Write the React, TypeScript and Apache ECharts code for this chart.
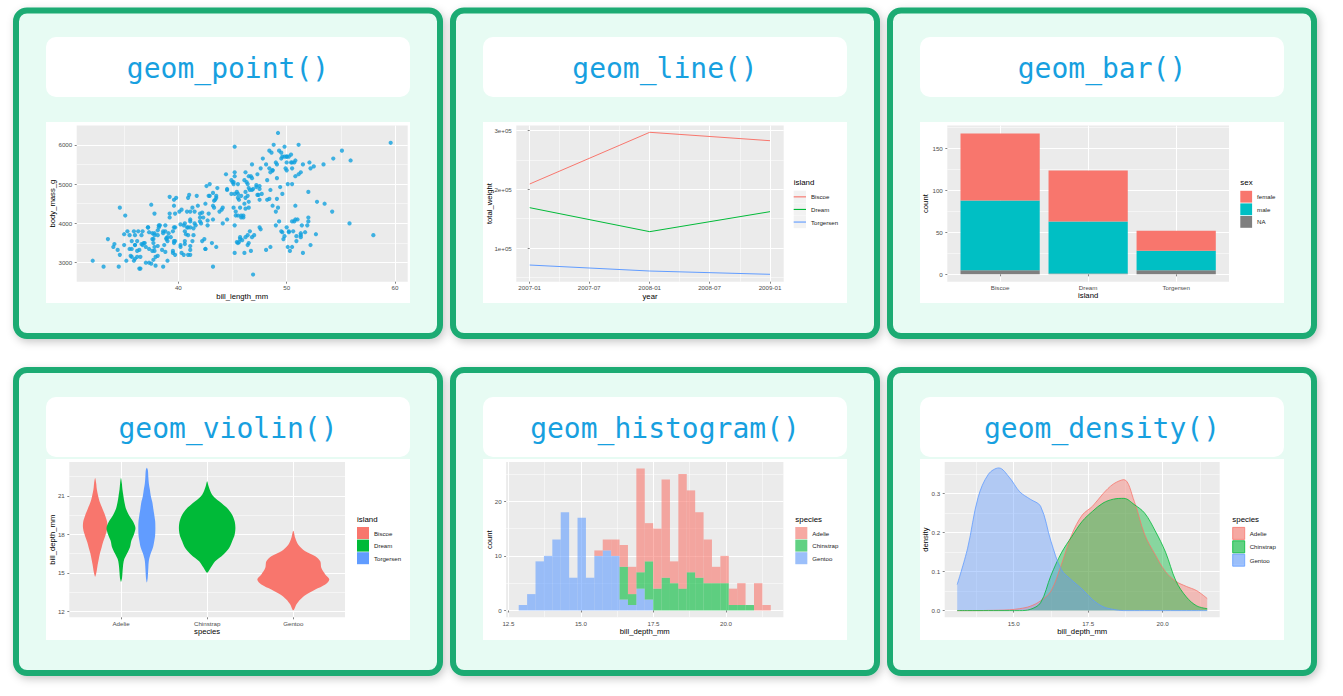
import React, { useEffect, useRef } from "react";
import * as echarts from "echarts";

// ---------------- texts ----------------
const panelTitles = ["geom_point()", "geom_line()", "geom_bar()", "geom_violin()", "geom_histogram()", "geom_density()"];
const xAxisTitles = ["bill_length_mm", "year", "island", "species", "bill_depth_mm", "bill_depth_mm"];
const yAxisTitles = ["body_mass_g", "total_weight", "count", "bill_depth_mm", "count", "density"];
const legendTitleTexts = ["island", "sex", "island", "species", "species"];

// ---------------- scatter: bill_length_mm vs body_mass_g ----------------
const adeliePoints = [
  [39.1,3750],[39.5,3800],[40.3,3250],[36.7,3450],[39.3,3650],[38.9,3625],[39.2,4675],[34.1,3475],[42.0,4250],[37.8,3300],
  [37.8,3700],[41.1,3200],[38.6,3800],[34.6,4400],[36.6,3700],[38.7,3450],[42.5,4500],[34.4,3325],[46.0,4200],
  [37.8,3400],[37.7,3600],[35.9,3800],[38.2,3950],[38.8,3800],[35.3,3800],[40.6,3550],[40.5,3200],[37.9,3150],[40.5,3950],
  [39.5,3250],[37.2,3900],[39.5,3300],[40.9,3900],[36.4,3325],[39.2,4150],[38.8,3950],[42.2,3550],[37.6,3300],[39.8,4650],
  [36.5,3150],[40.8,3900],[36.0,3100],[44.1,4400],[37.0,3000],[39.6,4600],[41.1,3425],[37.5,2975],[36.0,3450],[42.3,4150],
  [39.6,3500],[40.1,4300],[35.0,3450],[42.0,4050],[34.5,2900],[41.4,3700],[39.0,3550],[40.6,3800],[36.5,2850],[37.6,3750],
  [35.7,3150],[41.3,4400],[37.6,3600],[41.1,4050],[36.4,2850],[41.6,3950],[35.5,3350],[41.1,4100],
  [35.9,3050],[41.8,4450],[33.5,3600],[39.7,3900],[39.6,3550],[45.8,4150],[35.5,3700],[42.8,4250],[40.9,3700],[37.2,3900],
  [36.2,3550],[42.1,4000],[34.6,3200],[42.9,4700],[36.7,3800],[35.1,4200],
  [37.3,3350],[41.3,3550],[36.3,3800],[36.9,3500],[38.3,3950],[38.9,3600],[35.7,3550],[41.1,4300],[34.0,3400],[39.6,4450],
  [36.2,3300],[40.8,4300],[38.1,3700],[40.3,4350],[33.1,2900],[43.2,4100],
  [35.0,3725],[41.0,4725],[37.7,3075],[37.8,4250],[37.9,2925],[39.7,3550],[38.6,3750],[38.2,3900],[38.1,3175],[43.2,4775],
  [38.1,3825],[45.6,4600],[39.7,3200],[42.2,4275],[39.6,3900],[42.7,4075],
  [38.6,2900],[37.3,3775],[35.7,3350],[41.1,3325],[36.2,3150],[37.7,3500],[40.2,3450],[41.4,3875],[35.2,3050],[40.6,4000],
  [38.8,3275],[41.5,4300],[39.0,3050],[44.1,4000],[38.5,3325],[43.1,3500],
  [36.8,3500],[37.5,4475],[38.1,3425],[41.1,3900],[35.6,3175],[40.2,3975],[37.0,3400],[39.7,4250],[40.2,3400],[40.6,3475],
  [32.1,3050],[40.7,3725],[37.3,3000],[39.0,3650],[39.2,4250],[36.6,3475],[36.0,3450],[37.8,3750],[36.0,3700],[41.5,4000]
];
const chinstrapPoints = [
  [46.5,3500],[50.0,3900],[51.3,3650],[45.4,3525],[52.7,3725],[45.2,3950],[46.1,3250],[51.3,3750],[46.0,4150],[51.3,3700],
  [46.6,3800],[51.7,3775],[47.0,3700],[52.0,4050],[45.9,3575],[50.5,4050],[50.3,3300],[58.0,3700],[46.4,3450],[49.2,4400],
  [42.4,3600],[48.5,3400],[43.2,2900],[50.6,3800],[46.7,3300],[52.0,4150],[50.5,3400],[49.5,3800],[46.4,3700],[52.8,4550],
  [40.9,3200],[54.2,4300],[42.5,3350],[51.0,4100],[49.7,3600],[47.5,3900],[47.6,3850],[52.0,4800],[46.9,2700],[53.5,4500],
  [49.0,3950],[46.2,3650],[50.9,3550],[45.5,3500],[50.9,3675],[50.8,4450],[50.1,3400],[49.0,4300],[51.5,3250],[49.8,3675],
  [48.1,3325],[51.4,3950],[45.7,3600],[50.7,4050],[42.5,3350],[52.2,3450],[45.2,3250],[49.3,4050],[50.2,3800],[45.6,3525],
  [51.9,3950],[46.8,3650],[45.7,3650],[55.8,4000],[43.5,3400],[49.6,3775],[50.8,4100],[50.2,3775]
];
const gentooPoints = [
  [46.1,4500],[50.0,5700],[48.7,4450],[50.0,5700],[47.6,5400],[46.5,4550],[45.4,4800],[46.7,5200],[43.3,4400],[46.8,5150],
  [40.9,4650],[49.0,5550],[45.5,4650],[48.4,5850],[45.8,4200],[49.3,5850],[42.0,4150],[49.2,6300],[46.2,4800],[48.7,5350],
  [50.2,5700],[45.1,5000],[46.5,4400],[46.3,5050],[42.9,5000],[46.1,5100],[44.5,4100],[47.8,5650],[48.2,4600],[50.0,5550],
  [47.3,5250],[42.8,4700],[45.1,5050],[59.6,6050],[49.1,5150],[48.4,5400],[42.6,4950],[44.4,5250],[44.0,4350],[48.7,5350],
  [42.7,3950],[49.6,5700],[45.3,4300],[49.6,4750],[50.5,5550],[43.6,4900],[45.5,4200],[50.5,5400],[44.9,5100],[45.2,5300],
  [46.6,4850],[48.5,5300],[45.1,4400],[50.1,5000],[46.5,4900],[45.0,5050],[43.8,4300],[45.5,5000],[43.2,4450],[50.4,5550],
  [45.3,4200],[46.2,5300],[45.7,4400],[54.3,5650],[45.8,4700],[49.8,5700],[46.2,4650],[49.5,5800],[43.5,4700],[50.7,5550],
  [47.7,4750],[46.4,5000],[48.2,5100],[46.5,5200],[46.4,4700],[48.6,5800],[47.5,4600],[51.1,6000],[45.2,4750],[45.2,5950],
  [49.1,4625],[52.5,5450],[47.4,4725],[50.0,5350],[44.9,4750],[50.8,5600],[43.4,4600],[51.3,5300],[47.5,4875],[52.1,5550],
  [47.5,4950],[52.2,5400],[45.5,4750],[49.5,5650],[44.5,4850],[50.8,5200],[49.4,4925],[46.9,4875],[48.4,4625],[51.1,5250],
  [48.5,4850],[55.9,5600],[47.2,4975],[49.1,5500],[47.3,4725],[46.8,5500],[41.7,4700],[53.4,5500],[43.3,4575],[48.1,5500],
  [50.5,5000],[49.8,5950],[43.5,4650],[51.5,5500],[46.2,4375],[55.1,5850],[44.5,4875],[48.8,6000],[47.2,4925],[46.8,4850],
  [50.4,5750],[45.2,5200],[49.9,5400]
];
const scatterXTicks = [40, 50, 60];
const scatterYTicks = [3000, 4000, 5000, 6000];

// ---------------- line: total weight per island per year ----------------
const islands = ["Biscoe", "Dream", "Torgersen"];
const lineYears = ["2007-01-01", "2008-01-01", "2009-01-01"];
const biscoeWeight = [209200, 297300, 283000];
const dreamWeight = [168800, 127900, 162000];
const torgersenWeight = [71000, 60800, 55200];
const lineXTickDates = ["2007-01-01", "2007-07-01", "2008-01-01", "2008-07-01", "2009-01-01"];
const lineXTickLabels = ["2007-01", "2007-07", "2008-01", "2008-07", "2009-01"];
const lineYTicks = [100000, 200000, 300000];
const lineYTickLabels = ["1e+05", "2e+05", "3e+05"];

// ---------------- bar: count per island by sex ----------------
const sexLevels = ["female", "male", "NA"];
const femaleCounts = [80, 61, 24];
const maleCounts = [83, 62, 23];
const naCounts = [5, 1, 5];
const barYTicks = [0, 50, 100, 150];

// ---------------- violin: bill_depth_mm by species / island ----------------
const speciesNames = ["Adelie", "Chinstrap", "Gentoo"];
// [bill_depth_mm, half width in x units]
const violinAdelieBiscoe = [[22.4,0],[22.0,0.012],[21.5,0.02],[21.0,0.035],[20.5,0.055],[20.0,0.085],[19.5,0.115],[19.0,0.138],[18.6,0.142],[18.2,0.132],[17.8,0.113],[17.4,0.092],[17.0,0.076],[16.5,0.055],[16.0,0.04],[15.5,0.026],[15.0,0.014],[14.7,0]];
const violinAdelieDream = [[22.4,0],[22.0,0.01],[21.5,0.017],[21.0,0.028],[20.5,0.04],[20.0,0.058],[19.5,0.093],[19.0,0.14],[18.5,0.168],[18.0,0.15],[17.5,0.12],[17.0,0.104],[16.5,0.07],[16.0,0.035],[15.5,0.023],[15.0,0.017],[14.6,0.012],[14.3,0]];
const violinAdelieTorgersen = [[23.2,0],[23.0,0.012],[22.5,0.017],[22.0,0.023],[21.5,0.035],[21.0,0.046],[20.5,0.064],[20.0,0.075],[19.5,0.087],[19.0,0.097],[18.5,0.099],[18.0,0.097],[17.5,0.087],[17.0,0.072],[16.5,0.045],[16.0,0.025],[15.5,0.018],[15.0,0.014],[14.6,0.01],[14.24,0]];
const violinChinstrapDream = [[22.15,0],[21.8,0.015],[21.4,0.035],[21.1,0.058],[20.8,0.099],[20.58,0.139],[20.3,0.191],[20.06,0.232],[19.54,0.29],[19.02,0.319],[18.5,0.328],[17.98,0.319],[17.46,0.29],[16.94,0.255],[16.42,0.186],[15.9,0.093],[15.39,0.041],[15.0,0]];
const violinGentooBiscoe = [[18.29,0],[17.72,0.023],[17.2,0.058],[16.68,0.139],[16.29,0.255],[15.9,0.313],[15.39,0.325],[14.87,0.371],[14.48,0.418],[14.09,0.371],[13.7,0.255],[13.31,0.151],[12.92,0.081],[12.53,0.035],[12.06,0]];
const violinGroups = [
  { species: "Adelie", island: "Biscoe", profile: violinAdelieBiscoe },
  { species: "Adelie", island: "Dream", profile: violinAdelieDream },
  { species: "Adelie", island: "Torgersen", profile: violinAdelieTorgersen },
  { species: "Chinstrap", island: "Dream", profile: violinChinstrapDream },
  { species: "Gentoo", island: "Biscoe", profile: violinGentooBiscoe },
];
const violinYTicks = [12, 15, 18, 21];

// ---------------- histogram: bill_depth_mm, 30 bins, stacked ----------------
const histStart = 12.855;
const histBinWidth = 0.28966;
const gentooCounts =    [1,3,9,10,13,18,6,17,6,10,11,10,2,1,4,2,0,0,0,0,0,0,0,0,0,0,0,0,0,0];
const chinstrapCounts = [0,0,0,0,0,0,0,0,0,0,0,0,6,2,3,7,4,6,5,4,7,6,5,5,5,1,1,1,0,0];
const adelieCounts =    [0,0,0,0,0,0,0,0,0,1,2,3,4,5,19,7,11,18,4,21,15,12,8,3,5,3,4,0,5,1];
const histXTicks = [12.5, 15, 17.5, 20];
const histXTickLabels = ["12.5", "15.0", "17.5", "20.0"];
const histYTicks = [0, 10, 20];

// ---------------- density: bill_depth_mm ----------------
const densityGrid = [13.10,13.45,13.80,14.15,14.50,14.85,15.20,15.55,15.90,16.25,16.60,16.95,17.30,17.65,18.00,18.35,18.70,19.05,19.40,19.75,20.10,20.45,20.80,21.15,21.50];
const adelieDensity =    [0,0,0,0.0005,0.001,0.002,0.005,0.011,0.025,0.05,0.118,0.195,0.245,0.268,0.30,0.325,0.336,0.28,0.195,0.144,0.10,0.075,0.062,0.051,0.031];
const chinstrapDensity = [0,0,0,0,0,0,0,0.003,0.02,0.09,0.148,0.19,0.229,0.255,0.276,0.286,0.288,0.272,0.25,0.205,0.15,0.076,0.035,0.012,0.005];
const gentooDensity =    [0.067,0.16,0.29,0.35,0.366,0.342,0.305,0.286,0.268,0.178,0.105,0.078,0.055,0.028,0.01,0.003,0,0,0,0,0,0,0,0,0];
const densXTicks = [15, 17.5, 20];
const densXTickLabels = ["15.0", "17.5", "20.0"];
const densYTicks = [0, 0.1, 0.2, 0.3];
const densYTickLabels = ["0.0", "0.1", "0.2", "0.3"];

// ---------------- styling / layout ----------------
const FONT = '"Liberation Sans", Arial, Helvetica, sans-serif';
const MONO = '"DejaVu Sans Mono", "Liberation Mono", monospace';
const RED = "#F8766D", GREEN = "#00BA38", BLUE = "#619CFF", TEAL = "#00BFC4", GREY = "#7F7F7F";
const RED_A = "rgba(248,118,109,0.6)", GREEN_A = "rgba(0,186,56,0.6)", BLUE_A = "rgba(97,156,255,0.6)";
const islandColors: Record<string, string> = { Biscoe: RED, Dream: GREEN, Torgersen: BLUE };
const sexColors: Record<string, string> = { female: RED, male: TEAL, NA: GREY };
const POINT = "#12a1df";
const TITLE_BLUE = "#17a0df";
const CARD_GREEN = "#1dab73";
const MINT = "#e7fbf3";

const CARD_LEFTS = [13, 450, 887];
const CARD_ROWS = [
  { top: 7.5, height: 331.5, titleTop: 37, plotTop: 122 },
  { top: 367, height: 309, titleTop: 397, plotTop: 459 },
];
const CARD_W = 430, BORDER = 6, INSET = 33, BOX_W = 364, TITLE_H = 60, PLOT_H = 181;

const PANELS = [
  { left: 76.7, top: 125.5, right: 407.7, bottom: 281.7 },
  { left: 516.3, top: 125.5, right: 783.7, bottom: 281.7 },
  { left: 947.3, top: 125.5, right: 1229, bottom: 281.7 },
  { left: 69.3, top: 462, right: 345, bottom: 617.3 },
  { left: 506.1, top: 462, right: 783.4, bottom: 617.3 },
  { left: 944.7, top: 462, right: 1219.7, bottom: 617.3 },
];

const LEGENDS = [
  { x: 793.7, titleY: 182.7, top: 190.7, key: 12.3, gap: 0.3, keyBg: true },
  { x: 1240.3, titleY: 182.7, top: 190.8, key: 11.8, gap: 0.8, keyBg: false },
  { x: 357, titleY: 519, top: 527, key: 12, gap: 0.6, keyBg: false },
  { x: 795.3, titleY: 519, top: 527, key: 12, gap: 0.6, keyBg: true },
  { x: 1232.3, titleY: 519, top: 527, key: 12, gap: 0.6, keyBg: true },
];

// days since the first year (a date scale expressed in days)
const DAY = 86400000;
const dayOf = (s: string) => {
  const [y, m, d] = s.split("-").map(Number);
  const [y0, m0, d0] = lineYears[0].split("-").map(Number);
  return (Date.UTC(y, m - 1, d) - Date.UTC(y0, m0 - 1, d0)) / DAY;
};

const labelFor = (ticks: number[], labels: string[]) => (v: number) => {
  const i = ticks.findIndex((t) => Math.abs(t - v) <= Math.abs(t) * 1e-9 + 1e-9);
  return i >= 0 ? labels[i] : "";
};

const minorsOf = (ticks: number[], min: number, max: number) => {
  if (ticks.length < 2) return [];
  const out: number[] = [];
  out.push(ticks[0] - (ticks[1] - ticks[0]) / 2);
  for (let i = 0; i < ticks.length - 1; i++) out.push((ticks[i] + ticks[i + 1]) / 2);
  const n = ticks.length;
  out.push(ticks[n - 1] + (ticks[n - 1] - ticks[n - 2]) / 2);
  return out.filter((v) => v > min && v < max);
};

type AxisCfg = {
  min: number; max: number; ticks: number[]; labels: string[];
  minor: boolean; name: string; nameGap: number;
};

function majorAxis(gi: number, dir: "x" | "y", o: AxisCfg) {
  const isX = dir === "x";
  return {
    type: "value",
    gridIndex: gi,
    min: o.min,
    max: o.max,
    position: isX ? "bottom" : "left",
    silent: true,
    axisLine: { show: false },
    axisTick: { show: true, length: 2, lineStyle: { color: "#333333", width: 0.6 }, customValues: o.ticks },
    axisLabel: {
      show: true, customValues: o.ticks, formatter: labelFor(o.ticks, o.labels),
      color: "#4d4d4d", fontSize: 6.2, fontFamily: FONT, margin: isX ? 3 : 4.5,
    },
    splitLine: { show: true, lineStyle: { color: "#ffffff", width: 1 } },
    minorTick: { show: false },
    minorSplitLine: { show: false },
    name: o.name,
    nameLocation: "middle",
    nameGap: o.nameGap,
    nameMoveOverlap: false,
    nameTextStyle: { color: "#000000", fontSize: 7.7, fontFamily: FONT },
  };
}

function minorAxis(gi: number, dir: "x" | "y", o: AxisCfg) {
  const minors = o.minor ? minorsOf(o.ticks, o.min, o.max) : [];
  return {
    type: "value",
    gridIndex: gi,
    min: o.min,
    max: o.max,
    position: dir === "x" ? "top" : "right",
    silent: true,
    axisLine: { show: false },
    axisTick: { show: false, customValues: minors },
    axisLabel: { show: false, customValues: minors },
    splitLine: { show: minors.length > 0, lineStyle: { color: "#ffffff", width: 0.5 } },
  };
}

// rectangles [x0, x1, y0, y1] drawn through the axes
const rectItem = (color: string) => (params: any, api: any) => {
  const a = api.coord([api.value(0), api.value(3)]);
  const b = api.coord([api.value(1), api.value(2)]);
  return { type: "rect", shape: { x: a[0], y: a[1], width: b[0] - a[0], height: b[1] - a[1] }, style: { fill: color } };
};

function buildOption() {
  const d2 = dayOf(lineYears[lineYears.length - 1]);

  const axes: { x: AxisCfg; y: AxisCfg }[] = [
    {
      x: { min: 30.62, max: 61.17, ticks: scatterXTicks, labels: scatterXTicks.map(String), minor: true, name: xAxisTitles[0], nameGap: 10.3 },
      y: { min: 2517, max: 6490, ticks: scatterYTicks, labels: scatterYTicks.map(String), minor: true, name: yAxisTitles[0], nameGap: 20.5 },
    },
    {
      x: { min: -0.0558 * d2, max: d2 * 1.057, ticks: lineXTickDates.map(dayOf), labels: lineXTickLabels, minor: true, name: xAxisTitles[1], nameGap: 10.3 },
      y: { min: 42600, max: 308900, ticks: lineYTicks, labels: lineYTickLabels, minor: true, name: yAxisTitles[1], nameGap: 23 },
    },
    {
      x: { min: 0.4, max: 3.6, ticks: islands.map((_, i) => i + 1), labels: islands, minor: false, name: xAxisTitles[2], nameGap: 9.5 },
      y: { min: -8.8, max: 177.6, ticks: barYTicks, labels: barYTicks.map(String), minor: true, name: yAxisTitles[2], nameGap: 18 },
    },
    {
      x: { min: 0.4, max: 3.6, ticks: speciesNames.map((_, i) => i + 1), labels: speciesNames, minor: false, name: xAxisTitles[3], nameGap: 10 },
      y: { min: 11.53, max: 23.65, ticks: violinYTicks, labels: violinYTicks.map(String), minor: true, name: yAxisTitles[3], nameGap: 12.6 },
    },
    {
      x: { min: 12.42, max: 21.98, ticks: histXTicks, labels: histXTickLabels, minor: true, name: xAxisTitles[4], nameGap: 10 },
      y: { min: -1.25, max: 27.2, ticks: histYTicks, labels: histYTicks.map(String), minor: true, name: yAxisTitles[4], nameGap: 12.7 },
    },
    {
      x: { min: 12.68, max: 21.92, ticks: densXTicks, labels: densXTickLabels, minor: true, name: xAxisTitles[5], nameGap: 10 },
      y: { min: -0.0172, max: 0.3813, ticks: densYTicks, labels: densYTickLabels, minor: true, name: yAxisTitles[5], nameGap: 15.4 },
    },
  ];

  const grid = PANELS.map((p) => ({
    left: p.left, top: p.top, width: p.right - p.left, height: p.bottom - p.top,
    show: true, backgroundColor: "#ebebeb", borderWidth: 0, containLabel: false, outerBoundsMode: "none",
  }));
  const xAxis = axes.flatMap((a, gi) => [majorAxis(gi, "x", a.x), minorAxis(gi, "x", a.x)]);
  const yAxis = axes.flatMap((a, gi) => [majorAxis(gi, "y", a.y), minorAxis(gi, "y", a.y)]);
  const ax = (gi: number) => ({ xAxisIndex: gi * 2, yAxisIndex: gi * 2 });

  const series: any[] = [];

  // 1. scatter
  series.push({
    type: "scatter", name: "points", ...ax(0), symbol: "circle", symbolSize: 4.2, silent: true,
    itemStyle: { color: POINT, borderWidth: 0 },
    data: [...adeliePoints, ...chinstrapPoints, ...gentooPoints],
  });

  // 2. lines
  [biscoeWeight, dreamWeight, torgersenWeight].forEach((vals, i) => {
    const c = islandColors[islands[i]];
    series.push({
      type: "line", name: "line:" + islands[i], ...ax(1), symbol: "none", showSymbol: false, silent: true,
      lineStyle: { color: c, width: 1 }, itemStyle: { color: c },
      data: lineYears.map((d, j) => [dayOf(d), vals[j]]),
    });
  });

  // 3. stacked bars (bottom to top: NA, male, female), width 0.9 of a category
  const barStack: [string, number[]][] = [["NA", naCounts], ["male", maleCounts], ["female", femaleCounts]];
  const barBase = islands.map(() => 0);
  barStack.forEach(([n, vals]) => {
    const data = islands.map((_, j) => {
      const item = [j + 1 - 0.45, j + 1 + 0.45, barBase[j], barBase[j] + vals[j]];
      barBase[j] += vals[j];
      return item;
    });
    series.push({
      type: "custom", name: "bar:" + n, ...ax(2), coordinateSystem: "cartesian2d", silent: true,
      itemStyle: { color: sexColors[n] }, data, renderItem: rectItem(sexColors[n]),
    });
  });

  // 4. violins
  const violinX = violinGroups.map((g) => {
    const same = violinGroups.filter((v) => v.species === g.species);
    const k = same.indexOf(g);
    const n = same.length;
    return speciesNames.indexOf(g.species) + 1 + (k - (n - 1) / 2) * (0.9 / n);
  });
  islands.forEach((isl) => {
    const color = islandColors[isl];
    series.push({
      type: "custom", name: "violin:" + isl, ...ax(3), coordinateSystem: "cartesian2d", silent: true,
      itemStyle: { color },
      data: violinGroups.map((g, gi) => ({ g, gi })).filter((o) => o.g.island === isl).map((o) => [violinX[o.gi], 18, o.gi]),
      renderItem: (params: any, api: any) => {
        const cx = api.value(0);
        const prof = violinGroups[api.value(2)].profile;
        const right = prof.map(([d, w]) => api.coord([cx + w, d]));
        const left = prof.slice(1, -1).reverse().map(([d, w]) => api.coord([cx - w, d]));
        return { type: "polygon", shape: { points: right.concat(left), smooth: 0.3 }, style: { fill: color } };
      },
    });
  });

  // 5. histogram (stacked: Gentoo bottom, Chinstrap, Adelie top)
  const histSpecies: [string, number[], string][] = [["Gentoo", gentooCounts, BLUE_A], ["Chinstrap", chinstrapCounts, GREEN_A], ["Adelie", adelieCounts, RED_A]];
  const base = gentooCounts.map(() => 0);
  histSpecies.forEach(([name, counts, c]) => {
    const data: number[][] = [];
    counts.forEach((cnt, i) => {
      const x0 = histStart + i * histBinWidth;
      if (cnt > 0) data.push([x0, x0 + histBinWidth, base[i], base[i] + cnt]);
      base[i] += cnt;
    });
    series.push({
      type: "custom", name: "hist:" + name, ...ax(4), coordinateSystem: "cartesian2d", silent: true,
      itemStyle: { color: c }, data, renderItem: rectItem(c),
    });
  });

  // 6. density
  const densSpecies: [string, number[], string, string][] = [["Adelie", adelieDensity, RED, RED_A], ["Chinstrap", chinstrapDensity, GREEN, GREEN_A], ["Gentoo", gentooDensity, BLUE, BLUE_A]];
  densSpecies.forEach(([name, vals, c, ca]) => {
    series.push({
      type: "line", name: "density:" + name, ...ax(5), symbol: "none", showSymbol: false, smooth: 0.35, silent: true,
      lineStyle: { color: c, width: 0.8 }, itemStyle: { color: c }, areaStyle: { color: ca, origin: 0 },
      data: densityGrid.map((x, i) => [x, vals[i]]),
    });
  });

  // legends
  const stripName = (n: string) => n.split(":")[1];
  const legendText = { fontSize: 6.1, fontFamily: FONT, color: "#1a1a1a" };
  const LINE_ICON = "path://M0,0M12,12M0,5.45L12,5.45L12,6.55L0,6.55Z";
  const legendItems = [
    islands.map((isl) => ({ name: "line:" + isl, icon: LINE_ICON, itemStyle: { color: islandColors[isl], borderWidth: 0 } })),
    sexLevels.map((s) => ({ name: "bar:" + s, icon: "rect", itemStyle: { color: sexColors[s], borderWidth: 0 } })),
    islands.map((isl) => ({ name: "violin:" + isl, icon: "rect", itemStyle: { color: islandColors[isl], borderWidth: 0 } })),
    speciesNames.map((s, i) => ({ name: "hist:" + s, icon: "rect", itemStyle: { color: [RED_A, GREEN_A, BLUE_A][i], borderWidth: 0 } })),
    speciesNames.map((s, i) => ({ name: "density:" + s, icon: "rect", itemStyle: { color: [RED_A, GREEN_A, BLUE_A][i], borderColor: [RED, GREEN, BLUE][i], borderWidth: 0.8 } })),
  ];
  const legend = LEGENDS.map((L, i) => ({
    left: L.x, top: L.top, orient: "vertical", padding: 0, itemWidth: L.key, itemHeight: L.key, itemGap: L.gap,
    selectedMode: false, formatter: stripName, textStyle: legendText, data: legendItems[i],
  }));

  // graphics: cards, title boxes, plot backgrounds, legend titles
  const graphic: any[] = [];
  CARD_ROWS.forEach((row, r) => {
    CARD_LEFTS.forEach((cl, c) => {
      const idx = r * 3 + c;
      graphic.push({
        type: "rect", z: -10, silent: true,
        shape: { x: cl + BORDER / 2, y: row.top + BORDER / 2, width: CARD_W - BORDER, height: row.height - BORDER, r: 11 },
        style: { fill: MINT, stroke: CARD_GREEN, lineWidth: BORDER, shadowBlur: 8, shadowColor: "rgba(0,0,0,0.22)", shadowOffsetX: 2, shadowOffsetY: 3 },
      });
      graphic.push({
        type: "rect", z: -9, silent: true,
        shape: { x: cl + INSET, y: row.titleTop, width: BOX_W, height: TITLE_H, r: 10 },
        style: { fill: "#ffffff" },
      });
      graphic.push({
        type: "rect", z: -9, silent: true,
        shape: { x: cl + INSET, y: row.plotTop, width: BOX_W, height: PLOT_H },
        style: { fill: "#ffffff" },
      });
      graphic.push({
        type: "text", z: 10, silent: true,
        x: cl + INSET + BOX_W / 2, y: row.titleTop + TITLE_H / 2 + 1,
        style: { text: panelTitles[idx], fill: TITLE_BLUE, fontSize: 28, fontWeight: 500, fontFamily: MONO, align: "center", verticalAlign: "middle" },
      });
    });
  });
  LEGENDS.forEach((L, i) => {
    graphic.push({
      type: "text", z: 10, silent: true, x: L.x, y: L.titleY,
      style: { text: legendTitleTexts[i], fill: "#000000", fontSize: 7.9, fontFamily: FONT, align: "left", verticalAlign: "middle" },
    });
    if (L.keyBg) {
      legendItems[i].forEach((_, k) => {
        graphic.push({
          type: "rect", z: -8, silent: true,
          shape: { x: L.x, y: L.top + k * (L.key + L.gap), width: L.key, height: L.key },
          style: { fill: "#f2f2f2" },
        });
      });
    }
  });

  return {
    animation: false,
    backgroundColor: "#ffffff",
    textStyle: { fontFamily: FONT },
    grid, xAxis, yAxis, series, legend, graphic,
  };
}

export default function App() {
  const ref = useRef<HTMLDivElement>(null);
  useEffect(() => {
    if (!ref.current) return;
    const chart = echarts.init(ref.current, null, { renderer: "svg", width: 1343, height: 696 });
    chart.setOption(buildOption() as any);
    return () => chart.dispose();
  }, []);
  return <div ref={ref} style={{ position: "absolute", left: 0, top: 0, width: 1343, height: 696 }} />;
}
